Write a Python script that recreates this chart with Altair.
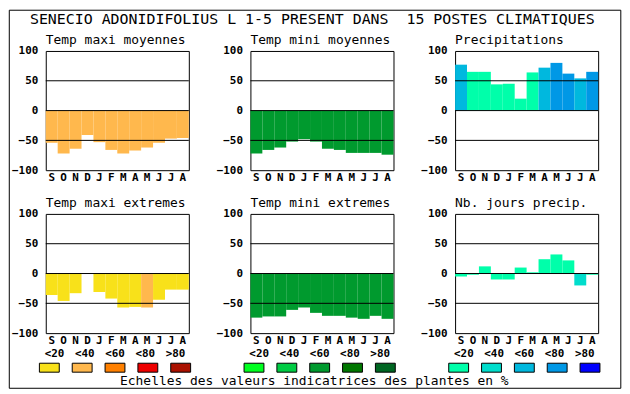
import altair as alt
import pandas as pd

# ---------------- data ----------------
MONTHS = ["S", "O", "N", "D", "J", "F", "M", "A", "M", "J", "J", "A"]
MAIN_TITLE = "SENECIO ADONIDIFOLIUS L 1-5 PRESENT DANS \u00a015 POSTES CLIMATIQUES"
FOOTER = "Echelles des valeurs indicatrices des plantes en %"
LEGEND_LABELS = ["<20", "<40", "<60", "<80", ">80"]
Y_TICKS = [-100, -50, 0, 50, 100]
GRID_VALUES = [50, 0, -50]

TITLES = ["Temp maxi moyennes", "Temp mini moyennes", "Precipitations",
          "Temp maxi extremes", "Temp mini extremes", "Nb. jours precip."]

TMAX_MOY = [-54, -72, -64, -41, -53, -66, -72, -67, -62, -54, -47, -46]
TMAX_MOY_CLS = [1, 1, 1, 1, 1, 1, 1, 1, 1, 1, 1, 1]

TMIN_MOY = [-72, -66, -62, -52, -48, -52, -64, -66, -71, -71, -71, -74]
TMIN_MOY_CLS = [2, 2, 2, 2, 2, 2, 2, 2, 2, 2, 2, 2]

PREC = [77, 65, 65, 44, 45, 20, 64, 72, 80, 62, 54, 65]
PREC_CLS = [2, 0, 0, 0, 0, 0, 0, 2, 3, 3, 2, 3]

TMAX_EXT = [-36, -46, -33, 0, -31, -42, -57, -56, -57, -44, -27, -27]
TMAX_EXT_CLS = [0, 0, 0, 0, 0, 0, 0, 0, 1, 0, 0, 0]

TMIN_EXT = [-74, -72, -72, -61, -57, -66, -71, -71, -74, -76, -71, -76]
TMIN_EXT_CLS = [2, 2, 2, 2, 2, 2, 2, 2, 2, 2, 2, 2]

NBJ = [-5, -2, 12, -10, -10, 10, 2, 24, 32, 22, -20, -2]
NBJ_CLS = [0, 0, 0, 0, 0, 0, 0, 0, 0, 0, 1, 0]

# ---------------- styles ----------------
PAL_TMAX = ["#F8E11A", "#FFB84D", "#FF8000", "#EE0000", "#AA1100"]
PAL_TMIN = ["#00FF20", "#00CC44", "#009A2E", "#007700", "#006622"]
PAL_PREC = ["#00FFAA", "#00DDCC", "#00B8DE", "#0098E6", "#0000FF"]

FONT = "DejaVu Sans Mono"
W, H = 144, 120

label_expr = "[" + ",".join("'%s'" % m for m in MONTHS) + "][datum.value]"


def y_axis():
    return alt.Axis(values=Y_TICKS, ticks=False, domain=False, grid=False,
                    title=None, labelPadding=8, labelFont=FONT, labelFontSize=11,
                    labelFontWeight="bold", labelColor="black",
                    labelOverlap=False, labelFlush=False)


def y_scale():
    return alt.Scale(domain=[-100, 100], nice=False, zero=True)


def panel(title, values, classes, palette, legend=False, extras=None):
    df = pd.DataFrame({
        "k": list(range(len(values))),
        "v": values,
        "col": [palette[c] for c in classes],
    })
    x = alt.X("k:O",
              scale=alt.Scale(domain=list(range(12)), paddingInner=0, paddingOuter=0),
              axis=alt.Axis(labelExpr=label_expr, labelAngle=0, ticks=False, domain=False,
                            title=None, labelPadding=1, labelFont=FONT, labelFontSize=11,
                            labelFontWeight="bold", labelColor="black", grid=False,
                            labelOverlap=False))
    bars = alt.Chart(df).mark_bar(strokeWidth=0).encode(
        x=x, y=alt.Y("v:Q", scale=y_scale(), axis=y_axis()),
        color=alt.Color("col:N", scale=None))
    rules = alt.Chart(pd.DataFrame({"v": GRID_VALUES})).mark_rule(
        color="black", strokeWidth=1).encode(
        y=alt.Y("v:Q", scale=y_scale(), axis=y_axis()))
    ttl = alt.Chart(pd.DataFrame({"t": [title]})).mark_text(
        font=FONT, fontSize=13, color="black", align="left",
        baseline="alphabetic").encode(x=alt.value(0), y=alt.value(-7), text="t:N")
    layers = [bars, rules, ttl]
    if legend:
        leg = pd.DataFrame({"lab": LEGEND_LABELS, "col": palette})
        lx = alt.X("lab:N", sort=LEGEND_LABELS,
                   scale=alt.Scale(domain=LEGEND_LABELS, range=[-6.4, 145.8],
                                   paddingInner=0.395, paddingOuter=0),
                   axis=None)
        rects = alt.Chart(leg).mark_rect(stroke="black", strokeWidth=1).encode(
            x=lx, y=alt.value(150.3), y2=alt.value(159.3),
            color=alt.Color("col:N", scale=None))
        texts = alt.Chart(leg).mark_text(font=FONT, fontSize=11, fontWeight="bold",
                                         baseline="middle", align="center",
                                         color="black").encode(
            x=lx, y=alt.value(141.5), text="lab:N")
        layers += [rects, texts]
    if extras:
        layers += extras
    ch = alt.layer(*layers).properties(width=W, height=H)
    if legend:
        ch = ch.resolve_scale(x="independent")
    return ch


one = pd.DataFrame({"t": [MAIN_TITLE], "f": [FOOTER]})
frame = alt.Chart(one).mark_rect(fill="transparent", stroke="black", strokeWidth=1).encode(
    x=alt.value(-36.7), x2=alt.value(578.8), y=alt.value(-41), y2=alt.value(339.5))
main_title = alt.Chart(one).mark_text(font=FONT, fontSize=15, color="black",
                                      align="center", baseline="middle").encode(
    x=alt.value(268.3), y=alt.value(-32), text="t:N")
footer = alt.Chart(one).mark_text(font=FONT, fontSize=13, color="black",
                                  align="center", baseline="middle").encode(
    x=alt.value(270.3), y=alt.value(332), text="f:N")

p1 = panel(TITLES[0], TMAX_MOY, TMAX_MOY_CLS, PAL_TMAX, extras=[frame, main_title, footer])
p2 = panel(TITLES[1], TMIN_MOY, TMIN_MOY_CLS, PAL_TMIN)
p3 = panel(TITLES[2], PREC, PREC_CLS, PAL_PREC)
p4 = panel(TITLES[3], TMAX_EXT, TMAX_EXT_CLS, PAL_TMAX, legend=True)
p5 = panel(TITLES[4], TMIN_EXT, TMIN_EXT_CLS, PAL_TMIN, legend=True)
p6 = panel(TITLES[5], NBJ, NBJ_CLS, PAL_PREC, legend=True)

chart = alt.concat(p1, p2, p3, p4, p5, p6, columns=3,
                   spacing={"row": 44, "column": 62}, bounds="flush").resolve_scale(
    x="independent", y="independent").properties(padding=0).configure(
    font=FONT).configure_view(stroke="black", strokeWidth=1)

chart.save("out.html", embed_options={"renderer": "svg", "actions": False})
